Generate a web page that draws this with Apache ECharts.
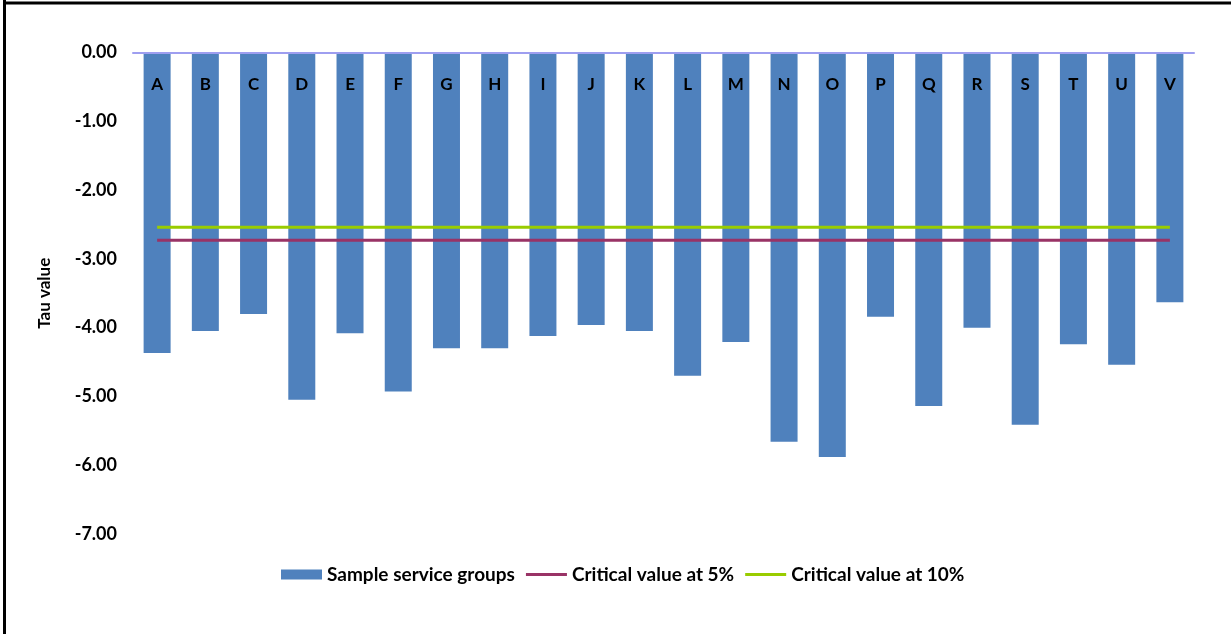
<!DOCTYPE html>
<html>
<head>
<meta charset="utf-8">
<script src="https://cdn.jsdelivr.net/npm/echarts@6/dist/echarts.min.js"></script>
<style>
  html, body { margin: 0; padding: 0; background: #ffffff; }
  #chart { width: 1231px; height: 634px; }
</style>
</head>
<body>
<div id="chart"></div>
<script>
// Service groups on the category axis
const groups = ['A','B','C','D','E','F','G','H','I','J','K','L','M','N','O','P','Q','R','S','T','U','V'];
// Tau statistic for each sample service group
const tauValues = [-4.37,-4.05,-3.80,-5.05,-4.08,-4.93,-4.30,-4.30,-4.12,-3.96,-4.05,-4.70,-4.21,-5.66,-5.88,-3.84,-5.14,-4.00,-5.41,-4.24,-4.54,-3.63];
// Critical values of the test
const critical5 = -2.73;
const critical10 = -2.54;
// Value axis range
const axisMin = -7;
const axisMax = 0;
const axisStep = 1;

const seriesNames = ['Sample service groups', 'Critical value at 5%', 'Critical value at 10%'];

const fontFamily = 'Lato, "Open Sans", sans-serif';
const lineIcon = 'path://M0,0 L40,0 L40,3 L0,3 Z';
const chart = echarts.init(document.getElementById('chart'), null, { renderer: 'canvas' });

chart.setOption({
  backgroundColor: '#ffffff',
  animation: false,
  textStyle: { fontFamily: fontFamily },
  graphic: [
    // frame around the figure (left and top edges)
    { type: 'line', shape: { x1: 4.5, y1: 0, x2: 4.5, y2: 634 }, style: { stroke: '#000', lineWidth: 3 }, z: 100 },
    { type: 'line', shape: { x1: 3, y1: 3, x2: 1231, y2: 3 }, style: { stroke: '#000', lineWidth: 3 }, z: 100 }
  ],
  grid: { left: 133, right: 37, top: 52.5, bottom: 100, containLabel: false },
  legend: {
    data: [
      { name: seriesNames[0], icon: 'rect' },
      { name: seriesNames[1], icon: lineIcon },
      { name: seriesNames[2], icon: lineIcon }
    ],
    left: 276,
    top: 560,
    itemWidth: 41,
    itemHeight: 10,
    itemGap: 11,
    textStyle: { fontFamily: fontFamily, fontWeight: 'bold', fontSize: 19, color: '#000' }
  },
  xAxis: {
    type: 'category',
    data: groups,
    position: 'top',
    z: 10,
    axisLine: { lineStyle: { color: '#9E9EF0', width: 2 } },
    axisTick: { show: false },
    axisLabel: { inside: true, margin: 24, color: '#000', fontWeight: 'bold', fontSize: 17, fontFamily: fontFamily, interval: 0 },
    splitLine: { show: false }
  },
  yAxis: {
    type: 'value',
    min: axisMin,
    max: axisMax,
    interval: axisStep,
    name: 'Tau value',
    nameLocation: 'middle',
    nameRotate: 90,
    nameGap: 80,
    nameTextStyle: { fontWeight: 'bold', fontSize: 17, color: '#000', fontFamily: fontFamily },
    axisLine: { show: false },
    axisTick: { show: false },
    splitLine: { show: false },
    axisLabel: {
      margin: 16,
      color: '#000',
      fontWeight: 'bold',
      fontSize: 18,
      fontFamily: fontFamily,
      formatter: v => v.toFixed(2)
    }
  },
  series: [
    {
      name: seriesNames[0],
      type: 'bar',
      data: tauValues,
      barWidth: 27,
      itemStyle: { color: '#4F81BD' }
    },
    {
      name: seriesNames[1],
      type: 'line',
      data: groups.map(() => critical5),
      symbol: 'none',
      lineStyle: { color: '#993366', width: 3 },
      itemStyle: { color: '#993366' },
      z: 3
    },
    {
      name: seriesNames[2],
      type: 'line',
      data: groups.map(() => critical10),
      symbol: 'none',
      lineStyle: { color: '#99CC00', width: 3 },
      itemStyle: { color: '#99CC00' },
      z: 3
    }
  ]
});
</script>
</body>
</html>
